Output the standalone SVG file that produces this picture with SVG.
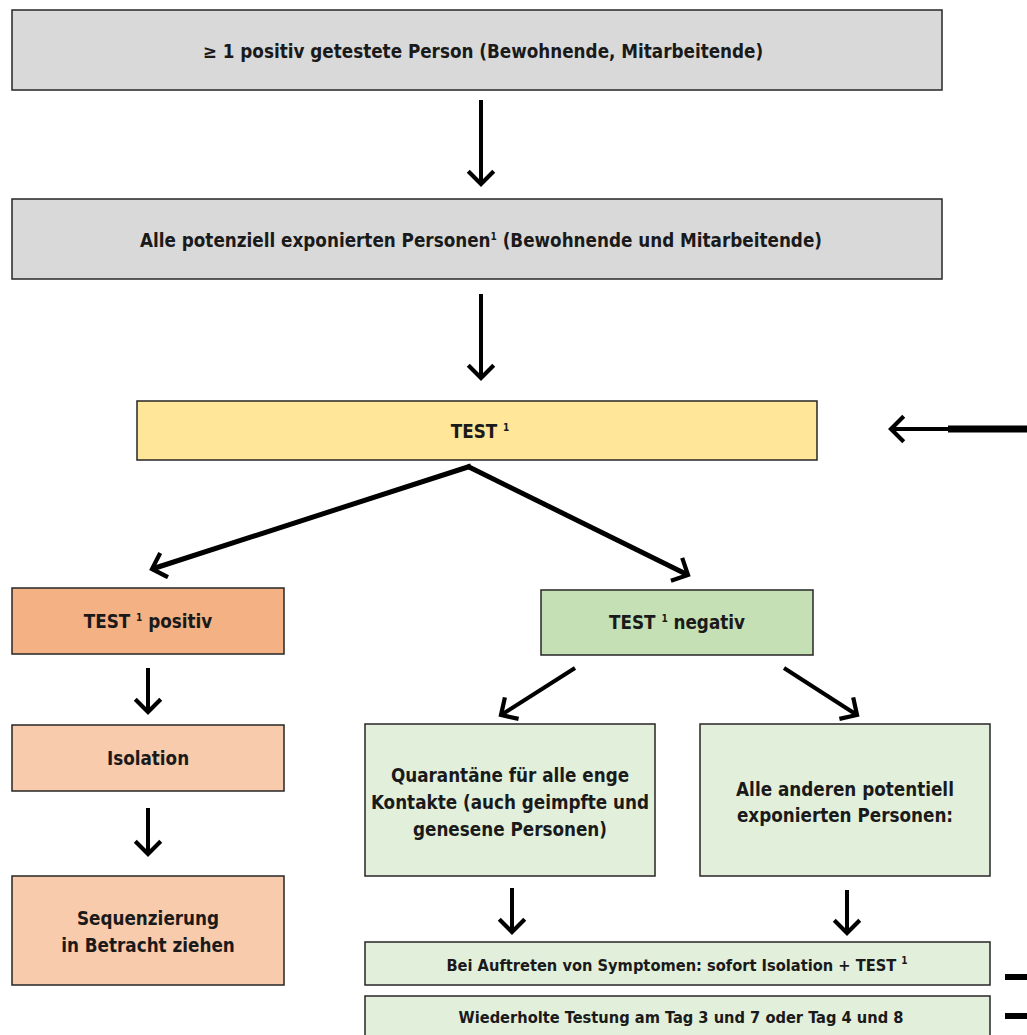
<svg xmlns="http://www.w3.org/2000/svg" width="1027" height="1035" viewBox="0 0 1027 1035">
<style>
  .box { stroke: #262626; stroke-width: 1.5; }
  .grey { fill: #d9d9d9; }
  .yellow { fill: #ffe699; }
  .orange { fill: #f4b183; }
  .peach { fill: #f8cbad; }
  .green { fill: #c5e0b4; }
  .lgreen { fill: #e2efda; }
  text { font-family: "DejaVu Sans Condensed", "DejaVu Sans", sans-serif; font-stretch: condensed; font-weight: bold; font-size: 18.7px; fill: #1a1a1a; text-anchor: middle; }
  .small { font-size: 16.3px; }
  .sup { font-size: 10px; }
  .conn line { stroke: #000; fill: none; }
  .w4 { stroke-width: 4; }
  .w5 { stroke-width: 5; }
</style>
<defs>
  <marker id="chev" markerUnits="userSpaceOnUse" markerWidth="30" markerHeight="30" viewBox="-16 -16 32 32" refX="0" refY="0" orient="auto" overflow="visible">
    <path d="M-12,-12 L0,0 L-12,12" fill="none" stroke="#000" stroke-width="4.5" stroke-linecap="square"/>
  </marker>
</defs>

<g id="n1">
  <rect class="box grey" x="12" y="10" width="930" height="80"/>
  <text x="483" y="58">≥ 1 positiv getestete Person (Bewohnende, Mitarbeitende)</text>
</g>
<g id="n2">
  <rect class="box grey" x="12" y="199" width="930" height="80"/>
  <text x="481" y="247">Alle potenziell exponierten Personen<tspan class="sup" dy="-7">1</tspan><tspan dy="7"> (Bewohnende und Mitarbeitende)</tspan></text>
</g>
<g id="n3">
  <rect class="box yellow" x="137" y="401" width="680" height="59"/>
  <text x="480" y="438">TEST <tspan class="sup" dy="-7">1</tspan></text>
</g>
<g id="n4">
  <rect class="box orange" x="12" y="588" width="272" height="66"/>
  <text x="148" y="628">TEST <tspan class="sup" dy="-7">1</tspan><tspan dy="7">  positiv</tspan></text>
</g>
<g id="n5">
  <rect class="box green" x="541" y="590" width="272" height="65"/>
  <text x="677" y="629">TEST <tspan class="sup" dy="-7">1</tspan><tspan dy="7">  negativ</tspan></text>
</g>
<g id="n6">
  <rect class="box peach" x="12" y="725" width="272" height="66"/>
  <text x="148" y="765">Isolation</text>
</g>
<g id="n7">
  <rect class="box peach" x="12" y="876" width="272" height="109"/>
  <text x="148" y="925">Sequenzierung</text>
  <text x="148" y="952">in Betracht ziehen</text>
</g>
<g id="n8">
  <rect class="box lgreen" x="365" y="724" width="290" height="152"/>
  <text x="510" y="782">Quarantäne für alle enge</text>
  <text x="510" y="809">Kontakte (auch geimpfte und</text>
  <text x="510" y="836">genesene Personen)</text>
</g>
<g id="n9">
  <rect class="box lgreen" x="700" y="724" width="290" height="152"/>
  <text x="845" y="796">Alle anderen potentiell</text>
  <text x="845" y="822">exponierten Personen:</text>
</g>
<g id="n10">
  <rect class="box lgreen" x="365" y="942" width="625" height="43"/>
  <text class="small" x="677" y="971">Bei Auftreten von Symptomen: sofort Isolation + TEST <tspan class="sup" dy="-7">1</tspan></text>
</g>
<g id="n11">
  <rect class="box lgreen" x="365" y="996" width="625" height="45"/>
  <text class="small" x="681" y="1023">Wiederholte Testung am Tag 3 und 7 oder Tag 4 und 8</text>
</g>

<g id="connectors" class="conn">
  <line class="w4" x1="481" y1="100" x2="481" y2="184" marker-end="url(#chev)"/>
  <line class="w4" x1="481" y1="294" x2="481" y2="378" marker-end="url(#chev)"/>
  <line class="w4" x1="948" y1="429" x2="891" y2="429" marker-end="url(#chev)"/>
  <line x1="948" y1="429" x2="1027" y2="429" stroke-width="7"/>
  <line class="w5" x1="471" y1="466" x2="152" y2="569" marker-end="url(#chev)"/>
  <line class="w5" x1="467" y1="466" x2="688" y2="575" marker-end="url(#chev)"/>
  <line class="w4" x1="148" y1="668" x2="148" y2="712" marker-end="url(#chev)"/>
  <line class="w4" x1="148" y1="808" x2="148" y2="854" marker-end="url(#chev)"/>
  <line class="w4" x1="575" y1="668" x2="501" y2="715" marker-end="url(#chev)"/>
  <line class="w4" x1="784" y1="668" x2="857" y2="715" marker-end="url(#chev)"/>
  <line class="w4" x1="512" y1="888" x2="512" y2="932" marker-end="url(#chev)"/>
  <line class="w4" x1="847" y1="890" x2="847" y2="933" marker-end="url(#chev)"/>
  <line x1="1005" y1="977" x2="1027" y2="977" stroke-width="6"/>
  <line x1="1005" y1="1016" x2="1027" y2="1016" stroke-width="6"/>
</g>
</svg>
